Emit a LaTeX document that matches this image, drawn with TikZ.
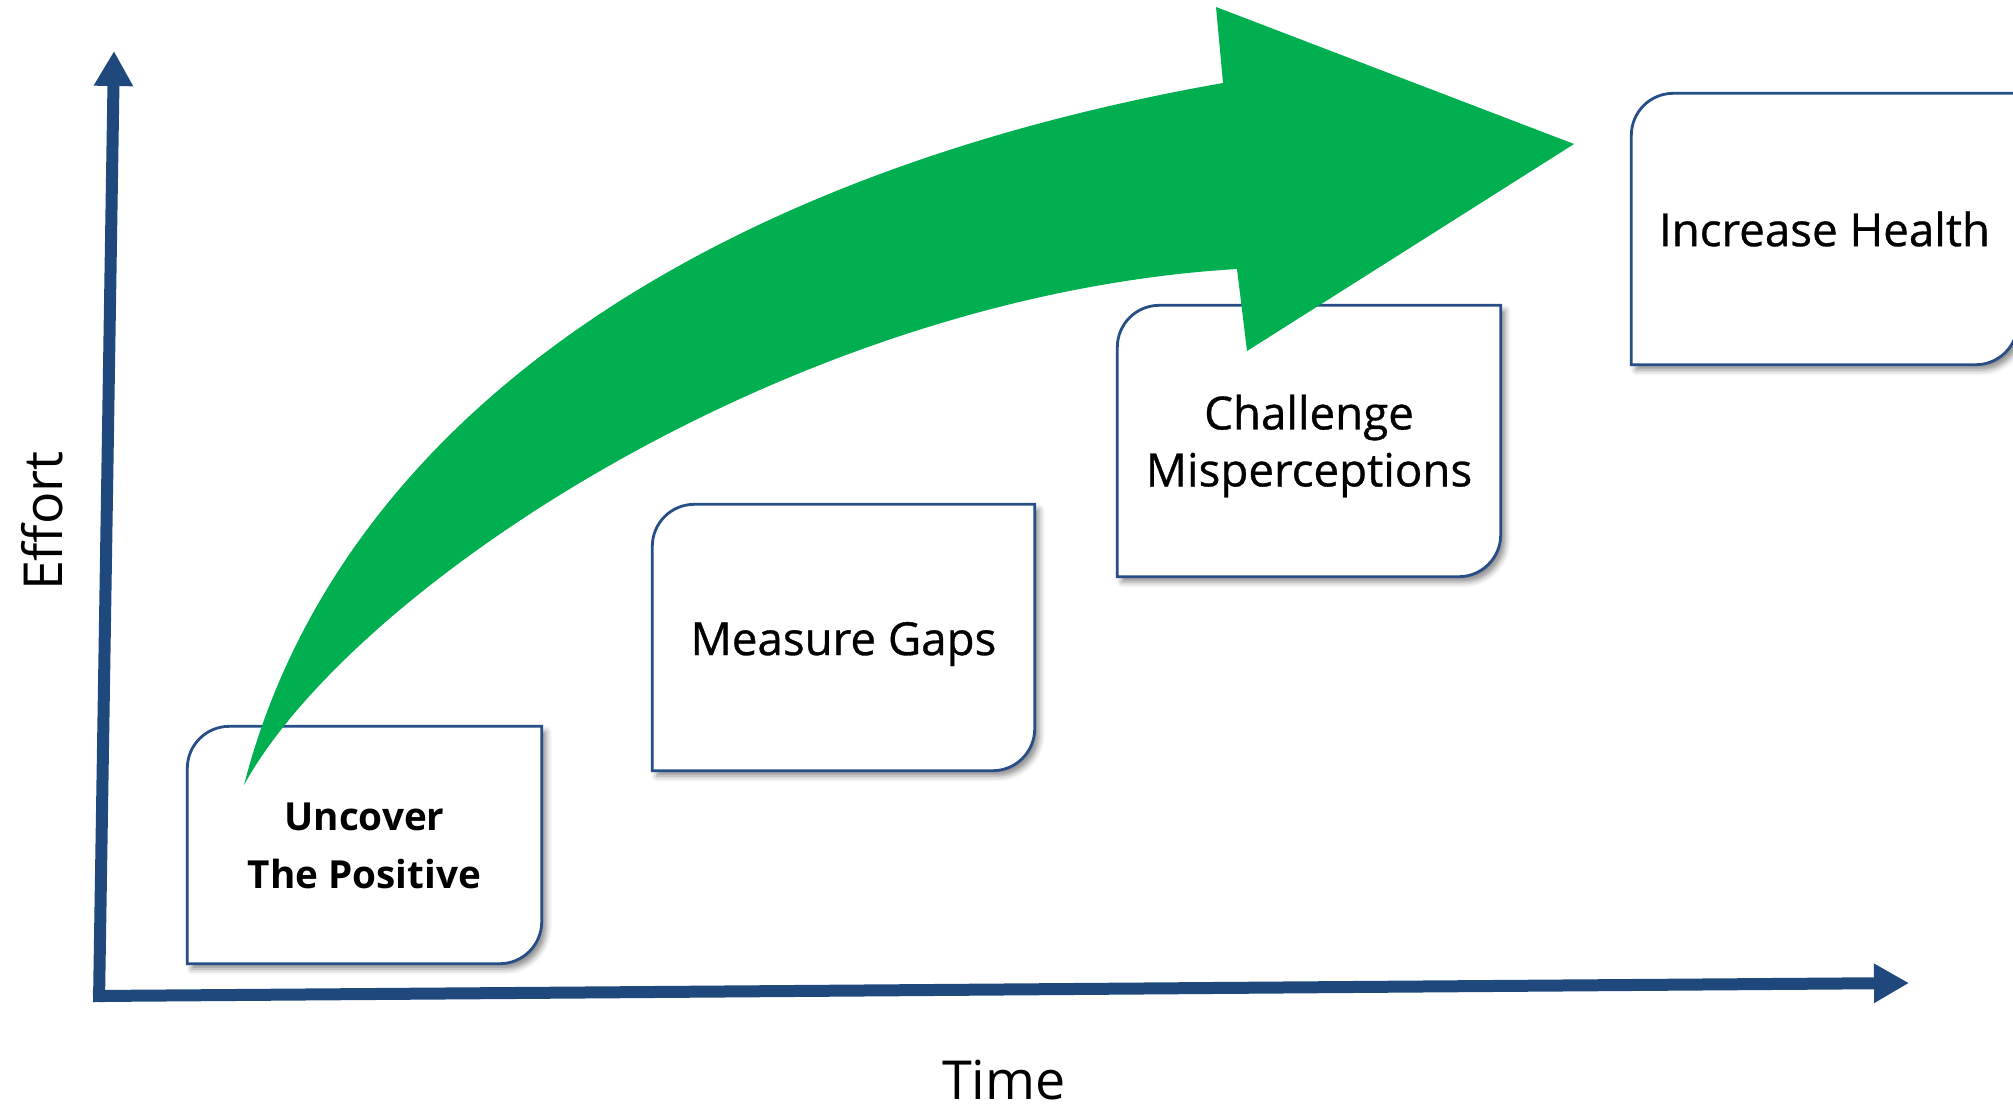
\documentclass[tikz,border=0pt]{standalone}
\usepackage{fontspec}
\setmainfont{Open Sans}
\newfontfamily\semibfont{Open Sans}[FakeBold=0.7]
\usetikzlibrary{arrows.meta,shadows.blur}
\definecolor{axisblue}{RGB}{31,73,125}
\definecolor{boxblue}{RGB}{40,78,135}
\definecolor{arrowgreen}{RGB}{0,176,80}
\pgfdeclarelayer{background}
\pgfsetlayers{background,main}
\newcommand\drawstepbox[1]{%
  \draw[boxline] (#1.south west) -- ([yshift=-0.42cm]#1.north west)
    arc[start angle=180,end angle=90,radius=0.42cm] -- (#1.north east)
    -- ([yshift=0.42cm]#1.south east)
    arc[start angle=0,end angle=-90,radius=0.42cm] -- cycle;}
\begin{document}
\begin{tikzpicture}[
  boxframe/.style={inner sep=0pt},
  steptext/.style={inner sep=0pt, align=center, font=\semibfont\fontsize{13}{16.2}\selectfont},
  boldtext/.style={inner sep=0pt, align=center, font=\bfseries\fontsize{11}{16.5}\selectfont},
  boxline/.style={draw=boxblue, line width=0.8pt, fill=white,
    blur shadow={shadow xshift=1.3pt, shadow yshift=-1.5pt, shadow blur radius=1.6pt, shadow opacity=45}},
  axisline/.style={draw=axisblue, line width=0.12cm, -{Triangle[length=0.35cm,width=0.37cm]}},
  axislabel/.style={inner sep=0pt, font=\fontsize{15.3}{18}\selectfont},
]
\useasboundingbox (0,0) rectangle (20.13,11.07);
\clip (0,0) rectangle (20.13,11.07);

% step boxes
\node[boxframe, minimum width=3.53cm, minimum height=2.36cm] (b1) at (3.645,2.62) {};
\node[boxframe, minimum width=3.81cm, minimum height=2.65cm] (b2) at (8.435,4.695) {};
\node[boxframe, minimum width=3.82cm, minimum height=2.70cm] (b3) at (13.09,6.66) {};
\node[boxframe, minimum width=3.85cm, minimum height=2.70cm] (b4) at (18.245,8.78) {};

\begin{pgfonlayer}{background}
  \drawstepbox{b1}
  \drawstepbox{b2}
  \drawstepbox{b3}
  \drawstepbox{b4}
\end{pgfonlayer}

\node[boldtext] (t1) at ([yshift=-0.01cm]b1.center) {Uncover\\The Positive};
\node[steptext] (t2) at ([yshift=-0.065cm]b2.center) {Measure Gaps};
\node[steptext] (t3) at ([yshift=-0.05cm]b3.center) {Challenge\\Misperceptions};
\node[steptext] (t4) at ([yshift=0cm]b4.center) {Increase Health};

% axes
\coordinate (o) at (0.99,1.11);
\coordinate (ytip) at (1.14,10.56);
\coordinate (xtip) at (19.09,1.24);
\draw[axisline] ([yshift=-0.06cm]o) -- (ytip);
\draw[axisline] ([xshift=-0.06cm]o) -- (xtip);

\node[axislabel, rotate=90] (effort) at (0.42,5.86) {Effort};
\node[axislabel] (time) at (10.04,0.27) {Time};

% green curved arrow
\coordinate (tail) at (2.44,3.22);
\coordinate (necktop) at (12.23,10.24);
\coordinate (headtop) at (12.16,11.00);
\coordinate (headtip) at (15.74,9.63);
\coordinate (headbot) at (12.47,7.56);
\coordinate (neckbot) at (12.37,8.38);
\fill[arrowgreen]
  (tail) .. controls (3.39,6.91) and (7.11,9.34) .. (necktop)
  -- (headtop) -- (headtip) -- (headbot) -- (neckbot)
  .. controls (7.87,8.11) and (3.50,5.16) .. (tail)
  -- cycle;
\end{tikzpicture}
\end{document}
